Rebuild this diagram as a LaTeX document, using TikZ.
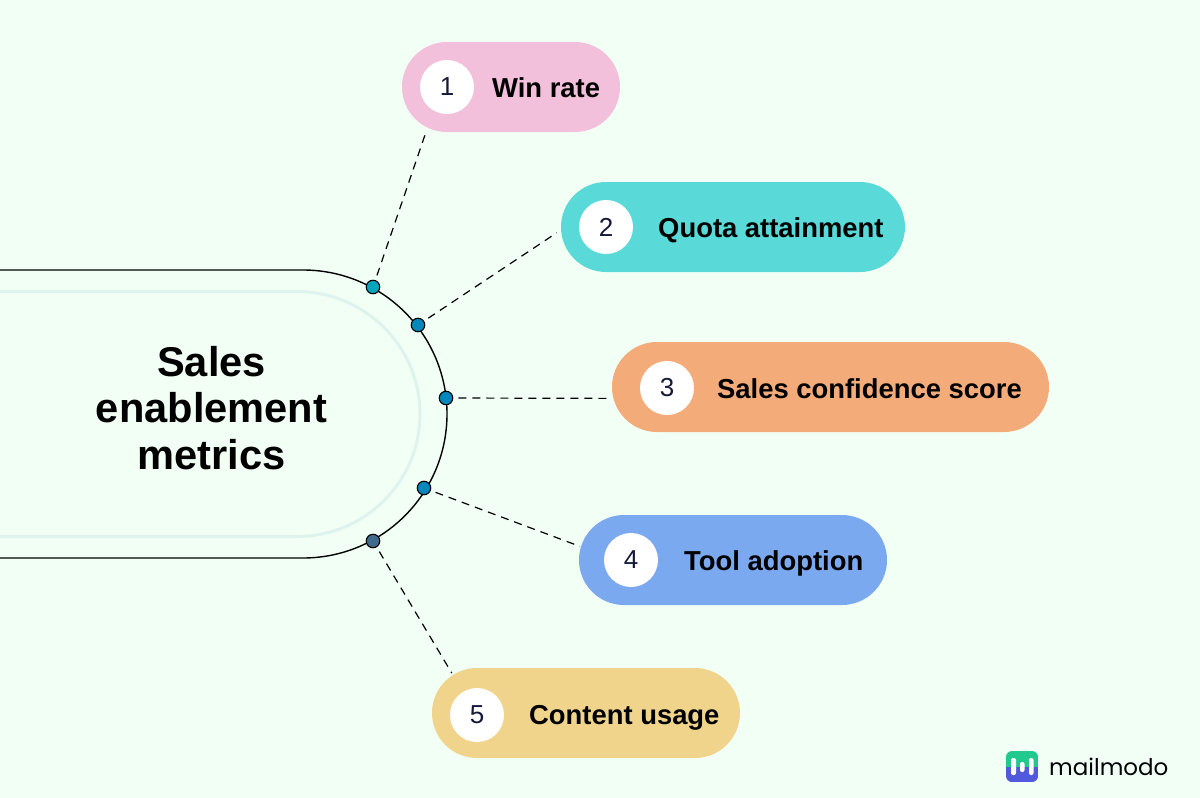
\documentclass[tikz,border=0pt]{standalone}
\usepackage{fontspec}
\setmainfont{Liberation Sans}
\newfontfamily\logofont{Poppins}
\usetikzlibrary{shapes.misc}
\definecolor{bgc}{HTML}{F2FFF5}
\definecolor{innerc}{HTML}{DFF3EE}
\definecolor{pinkc}{HTML}{F3C0DC}
\definecolor{tealc}{HTML}{59DAD9}
\definecolor{orangec}{HTML}{F3AC79}
\definecolor{bluec}{HTML}{7BA9F0}
\definecolor{yellowc}{HTML}{F1D48C}
\definecolor{numc}{HTML}{16193A}
\definecolor{dotA}{HTML}{06A5BC}
\definecolor{dotB}{HTML}{0288BC}
\definecolor{dotC}{HTML}{3F6A8C}
\definecolor{logoG}{HTML}{22C98F}
\definecolor{logoP}{HTML}{5159DC}
\tikzset{
  pill/.style={rounded rectangle,draw=none,inner sep=0pt,minimum height=90pt},
  numdisc/.style={circle,fill=white,inner sep=0pt,minimum size=54pt,text=numc,font=\fontsize{26}{30}\selectfont},
  lbl/.style={anchor=base west,inner sep=0pt,text=black,font=\fontsize{27.4}{30}\selectfont\bfseries},
  dot/.style={circle,draw=black,line width=1.1pt,inner sep=0pt,minimum size=13.5pt},
  link/.style={draw=black,line width=1.2pt,dash pattern=on 8pt off 6pt},
  bar/.style={fill=white,rounded corners=2pt,draw=none}
}
\begin{document}
\begin{tikzpicture}[x=1pt,y=-1pt]
\useasboundingbox (0,0) rectangle (1200,798);
\fill[bgc] (0,0) rectangle (1200,798);
% central shape
\draw[innerc,line width=3pt] (-5,291.5) -- (297,291.5) arc[start angle=90,end angle=-90,x radius=123,y radius=-122.5] -- (-5,536.5);
\draw[black,line width=1.4pt] (-5,270) -- (303,270) arc[start angle=90,end angle=-90,x radius=144,y radius=-144] -- (-5,558);
\node[inner sep=0pt,align=center,text=black,font=\fontsize{41.6}{46.5}\selectfont\bfseries] (title) at (211.5,408) {Sales\\enablement\\metrics};
% pills
\node[pill,fill=pinkc,minimum width=218pt] (p1) at (511,87) {};
\node[pill,fill=tealc,minimum width=344pt] (p2) at (733,227) {};
\node[pill,fill=orangec,minimum width=437pt] (p3) at (830.5,387) {};
\node[pill,fill=bluec,minimum width=308pt] (p4) at (733,560) {};
\node[pill,fill=yellowc,minimum width=308pt] (p5) at (586,713) {};
% number discs
\node[numdisc] (n1) at (447,87) {1};
\node[numdisc] (n2) at (606,227) {2};
\node[numdisc] (n3) at (667,388) {3};
\node[numdisc] (n4) at (631,560) {4};
\node[numdisc] (n5) at (477,715) {5};
% labels
\node[lbl] (t1) at (492,97) {Win rate};
\node[lbl] (t2) at (658,237) {Quota attainment};
\node[lbl] (t3) at (717,398) {Sales confidence score};
\node[lbl] (t4) at (684,570) {Tool adoption};
\node[lbl] (t5) at (529,724) {Content usage};
% dots
\node[dot,fill=dotA] (d1) at (373,287) {};
\node[dot,fill=dotB] (d2) at (418,325) {};
\node[dot,fill=dotB] (d3) at (446,398) {};
\node[dot,fill=dotB] (d4) at (424,488) {};
\node[dot,fill=dotC] (d5) at (373,541) {};
% connectors
\draw[link,shorten <=5pt,shorten >=3pt] (d1) -- (p1.206.5);
\draw[link,shorten <=5pt,shorten >=5pt] (d2) -- (p2.181);
\draw[link,shorten <=5pt,shorten >=1pt] (d3) -- (p3.183);
\draw[link,shorten <=5pt,shorten >=1pt] (d4) -- (p4.175);
\draw[link,shorten <=5pt,shorten >=2pt] (d5) -- (p5.164);
% logo
\begin{scope}
\clip[rounded corners=6pt] (1006,751) rectangle (1038,782);
\fill[logoG] (1006,751) rectangle (1038,767);
\fill[logoP] (1006,767) rectangle (1038,782);
\end{scope}
\fill[bar] (1011,758) rectangle (1016,775);
\fill[bar] (1020,762) rectangle (1024.5,772);
\fill[bar] (1029,758) rectangle (1033.5,775);
\node[anchor=base west,inner sep=0pt,text=black!85!numc,font=\fontsize{23}{30}\selectfont\logofont] (logo) at (1049,775) {mailmodo};
\end{tikzpicture}
\end{document}
